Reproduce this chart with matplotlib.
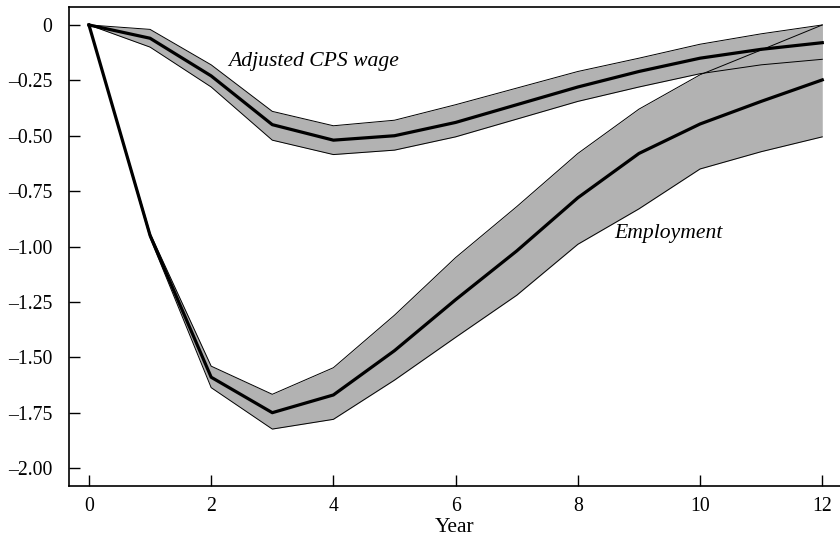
import matplotlib
matplotlib.use('Agg')
import matplotlib.pyplot as plt

plt.rcParams['font.family'] = ['Liberation Serif', 'DejaVu Serif']

# impulse responses
years = list(range(13))
wage = [0, -0.06, -0.23, -0.45, -0.52, -0.50, -0.44, -0.36, -0.28, -0.21, -0.15, -0.11, -0.08]
wage_hi = [0, -0.02, -0.18, -0.39, -0.455, -0.43, -0.36, -0.285, -0.21, -0.15, -0.087, -0.04, 0.0]
wage_lo = [0, -0.10, -0.28, -0.52, -0.585, -0.565, -0.505, -0.425, -0.345, -0.28, -0.22, -0.18, -0.155]

emp = [0, -0.95, -1.59, -1.75, -1.67, -1.47, -1.24, -1.02, -0.78, -0.58, -0.447, -0.345, -0.248]
emp_hi = [0, -0.94, -1.54, -1.667, -1.547, -1.31, -1.05, -0.82, -0.58, -0.38, -0.225, -0.113, 0.0]
emp_lo = [0, -0.96, -1.637, -1.824, -1.78, -1.603, -1.41, -1.22, -0.99, -0.83, -0.65, -0.572, -0.505]

yticks = [0, -0.25, -0.5, -0.75, -1.0, -1.25, -1.5, -1.75, -2.0]
ytick_labels = ['0', '\u20130.25', '\u20130.50', '\u20130.75', '\u20131.00',
                '\u20131.25', '\u20131.50', '\u20131.75', '\u20132.00']
xticks = [0, 2, 4, 6, 8, 10, 12]

fig = plt.figure(figsize=(8.4, 5.39), dpi=100)
ax = fig.add_axes([0.0821, 0.0983, 0.9179, 0.8887])

band = '#b2b2b2'
ax.fill_between(years, emp_lo, emp_hi, color=band, lw=0, zorder=1)
ax.fill_between(years, wage_lo, wage_hi, color=band, lw=0, zorder=1)
for edge in (emp_lo, emp_hi, wage_lo, wage_hi):
    ax.plot(years, edge, color='black', lw=0.7, zorder=2)
ax.plot(years, emp, color='black', lw=2.3, zorder=3)
ax.plot(years, wage, color='black', lw=2.3, zorder=3)

ax.text(3.67, -0.165, 'Adjusted CPS wage', style='italic', fontsize=15.6,
        ha='center', va='center')
ax.text(9.48, -0.94, 'Employment', style='italic', fontsize=15.6,
        ha='center', va='center')

ax.set_xlim(-0.327, 12.29)
ax.set_ylim(-2.081, 0.081)
ax.set_xticks(xticks)
ax.set_yticks(yticks)
ax.set_yticklabels(ytick_labels)
ax.tick_params(direction='in', length=8, width=1, labelsize=14.2)
ax.tick_params(axis='y', pad=12)
ax.tick_params(axis='x', pad=8)
ax.set_xlabel('Year', fontsize=15.5, labelpad=1)
ax.spines['right'].set_visible(False)
for s in ('left', 'bottom', 'top'):
    ax.spines[s].set_linewidth(1.2)

fig.savefig('out.png', dpi=100)
